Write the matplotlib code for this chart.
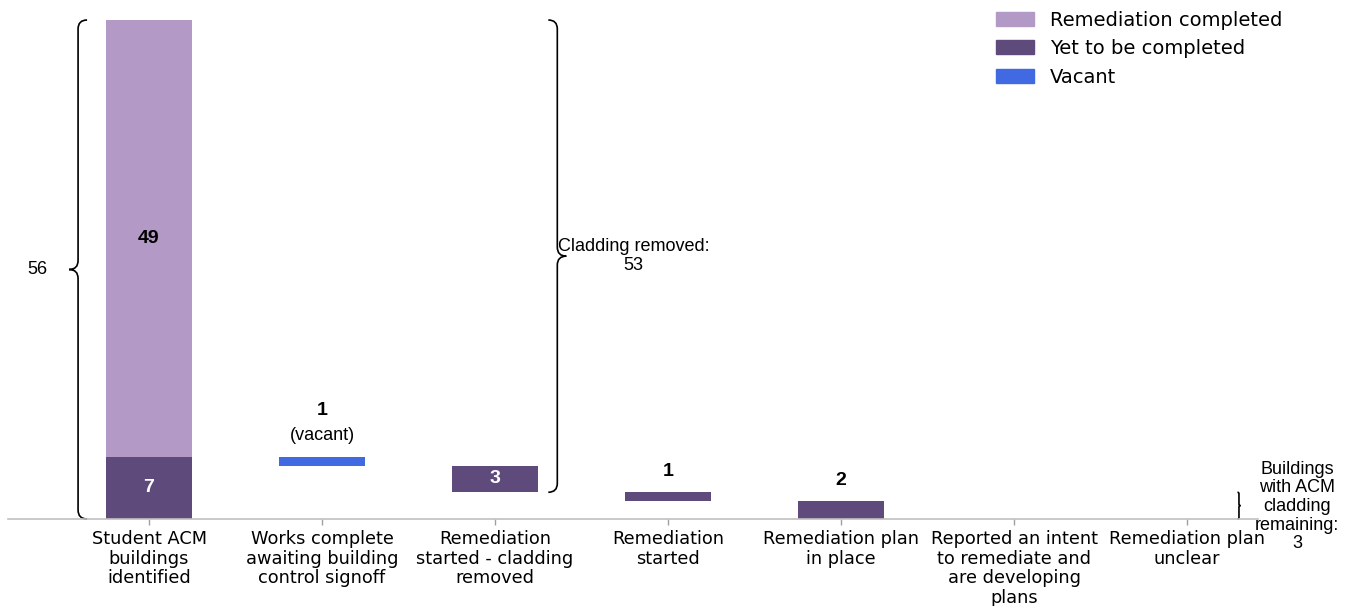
import numpy as np
import matplotlib

matplotlib.use('Agg')
import matplotlib.pyplot as plt
from matplotlib.path import Path
from matplotlib.patches import PathPatch, Patch

plt.rcParams['font.family'] = ['DejaVu Sans']

# data
categories = ['Student ACM\nbuildings\nidentified',
              'Works complete\nawaiting building\ncontrol signoff',
              'Remediation\nstarted - cladding\nremoved',
              'Remediation\nstarted',
              'Remediation plan\nin place',
              'Reported an intent\nto remediate and\nare developing\nplans',
              'Remediation plan\nunclear']
completed = [49, 0, 0, 0, 0, 0, 0]
yet_to_complete = [7, 0, 3, 1, 2, 0, 0]
vacant = [0, 1, 0, 0, 0, 0, 0]

total_identified = 56
cladding_removed = 53
remaining = 3

LIGHT = '#b399c6'
DARK = '#5f4b7b'
BLUE = '#4169e1'
ARIAL = 'Liberation Sans'

fig = plt.figure(figsize=(13.54, 6.06), dpi=100)
ax = fig.add_axes([8 / 1354, 87 / 606, 1250 / 1354, 499 / 606])

x = np.arange(len(categories))
width = 0.5

# waterfall bottoms: start from the buildings yet to be completed and step down
bottoms = []
left = yet_to_complete[0]
for i in range(len(categories)):
    if i == 0:
        bottoms.append(0)
        continue
    left -= yet_to_complete[i] + vacant[i]
    bottoms.append(left)

ax.bar(x[0], yet_to_complete[0], width, color=DARK)
ax.bar(x[0], completed[0], width, bottom=yet_to_complete[0], color=LIGHT)
for i in range(1, len(categories)):
    if vacant[i]:
        ax.bar(x[i], vacant[i], width, bottom=bottoms[i], color=BLUE)
    elif yet_to_complete[i]:
        ax.bar(x[i], yet_to_complete[i], width, bottom=bottoms[i], color=DARK)

ax.set_xlim(-0.815, 6.41)
ax.set_ylim(0, 56)

# value labels
ax.text(x[0], yet_to_complete[0] + completed[0] / 2, str(completed[0]), ha='center', va='center',
        fontsize=14, fontweight='bold', family=ARIAL)
ax.text(x[0], yet_to_complete[0] / 2, str(yet_to_complete[0]), ha='center', va='center',
        fontsize=14, fontweight='bold', color='white', family=ARIAL)
for i in range(1, len(categories)):
    v = vacant[i] + yet_to_complete[i]
    if v == 0:
        continue
    top = bottoms[i] + v
    if vacant[i]:
        ax.annotate(str(v), (x[i], top), xytext=(0, 33), textcoords='offset points',
                    ha='center', va='center', fontsize=14, fontweight='bold', family=ARIAL)
        ax.annotate('(vacant)', (x[i], top), xytext=(0, 15), textcoords='offset points',
                    ha='center', va='center', fontsize=13, family=ARIAL)
    elif v >= 3:
        ax.text(x[i], bottoms[i] + v / 2, str(v), ha='center', va='center',
                fontsize=14, fontweight='bold', color='white', family=ARIAL)
    else:
        ax.annotate(str(v), (x[i], top), xytext=(0, 15), textcoords='offset points',
                    ha='center', va='center', fontsize=14, fontweight='bold', family=ARIAL)


def brace(ax, x0, y0, y1, d, r_px=9):
    '''draw a curly brace at x0 from y0 to y1, tip pointing left (d=-1) or right (d=1)'''
    t = ax.transData
    px_x = t.transform((1, 0))[0] - t.transform((0, 0))[0]
    px_y = t.transform((0, 1))[1] - t.transform((0, 0))[1]
    half_px = (y1 - y0) * px_y / 2
    r = min(r_px, half_px / 2)
    rx = r / px_x
    ry = r / px_y
    mid = (y0 + y1) / 2
    verts = [(x0 - d * rx, y1), (x0, y1), (x0, y1 - ry),
             (x0, mid + ry), (x0, mid), (x0 + d * rx, mid),
             (x0, mid), (x0, mid - ry),
             (x0, y0 + ry), (x0, y0), (x0 - d * rx, y0)]
    codes = [Path.MOVETO, Path.CURVE3, Path.CURVE3,
             Path.LINETO, Path.CURVE3, Path.CURVE3,
             Path.CURVE3, Path.CURVE3,
             Path.LINETO, Path.CURVE3, Path.CURVE3]
    ax.add_patch(PathPatch(Path(verts, codes), facecolor='none', edgecolor='black',
                           lw=1.2, clip_on=False))


brace(ax, -0.41, 0, total_identified, -1)
ax.text(-0.647, total_identified / 2, str(total_identified), ha='center', va='center',
        fontsize=13, family=ARIAL)

brace(ax, 2.36, remaining, total_identified, 1)
ax.text(2.80, (remaining + total_identified) / 2, 'Cladding removed:\n%d' % cladding_removed,
        ha='center', va='center', fontsize=13, family=ARIAL, linespacing=1.1)

brace(ax, 6.30, 0, remaining, 1, r_px=1.5)
ax.text(6.635, 1.4, 'Buildings\nwith ACM\ncladding\nremaining:\n%d' % remaining,
        ha='center', va='center', fontsize=13, family=ARIAL, linespacing=1.13)

# axes styling
for s in ['top', 'right', 'left']:
    ax.spines[s].set_visible(False)
ax.spines['bottom'].set_color('#c0c0c0')
ax.spines['bottom'].set_linewidth(1.2)
ax.set_yticks([])
ax.set_xticks(x)
ax.set_xticklabels(categories, fontsize=12.8, linespacing=1.12)
ax.tick_params(axis='x', colors='#a0a0a0', length=4, width=1, labelcolor='black', pad=4)

handles = [Patch(color=LIGHT, label='Remediation completed'),
           Patch(color=DARK, label='Yet to be completed'),
           Patch(color=BLUE, label='Vacant')]
fig.legend(handles=handles, loc='upper left', bbox_to_anchor=(979 / 1354, 1 + 7 / 606),
           frameon=False, fontsize=14, handlelength=1.95, handleheight=0.72,
           labelspacing=0.5, handletextpad=0.8)

fig.savefig('out.png', dpi=100)
